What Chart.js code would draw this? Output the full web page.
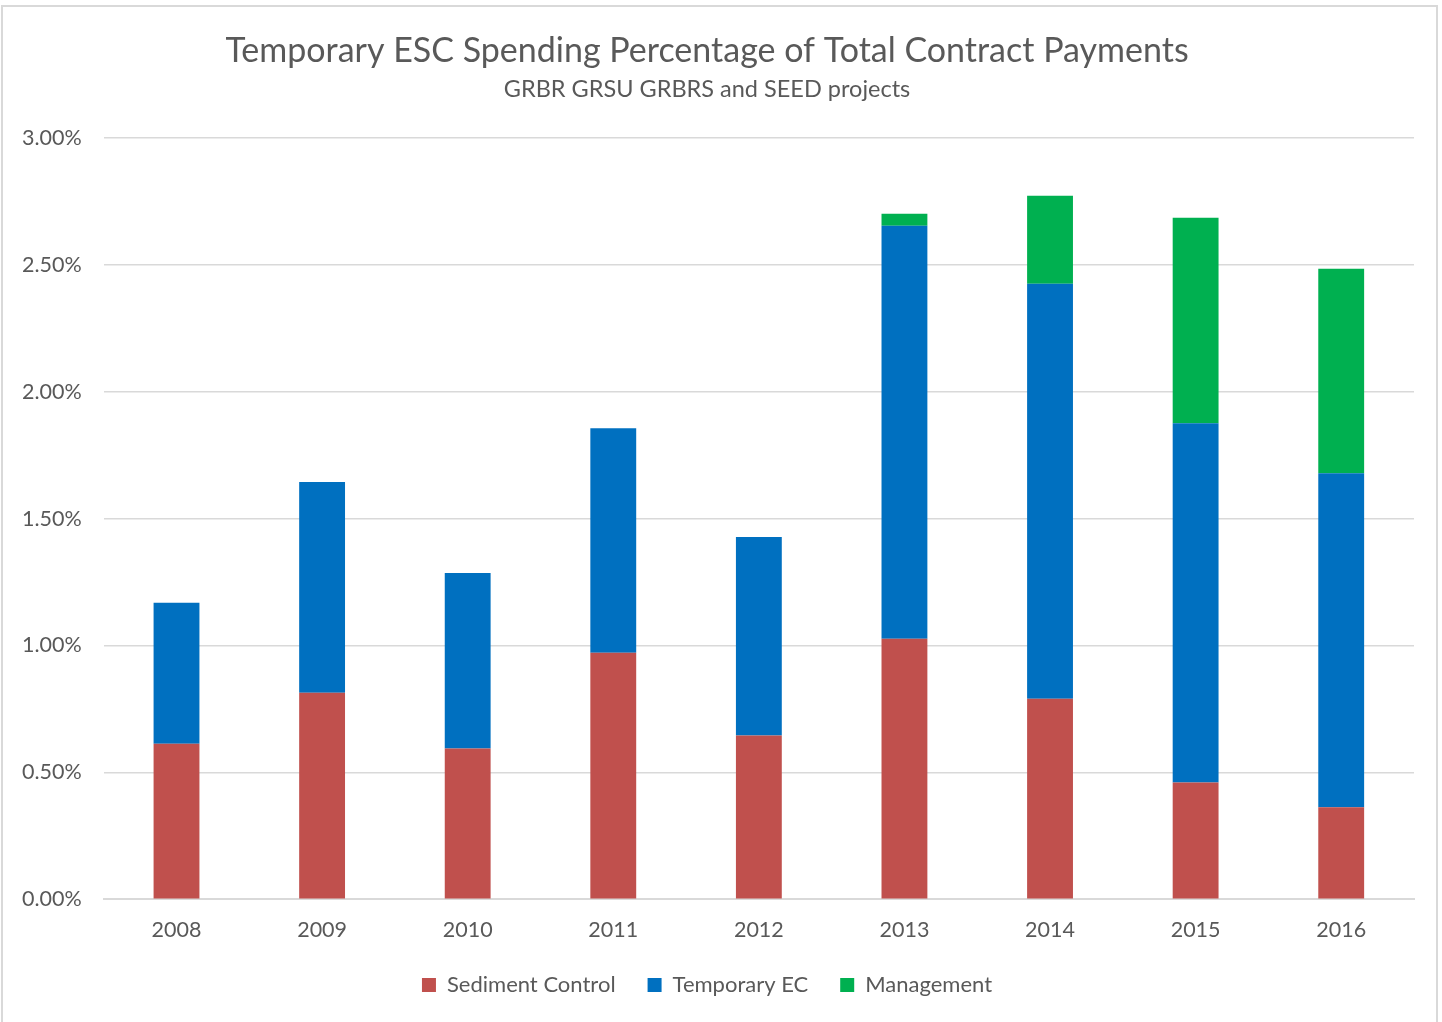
<!DOCTYPE html>
<html>
<head>
<meta charset="utf-8">
<script src="https://cdn.jsdelivr.net/npm/chart.js@4.4.1/dist/chart.umd.min.js"></script>
<style>
  body { margin: 0; background: #fff; }
  #frame { position: absolute; left: 1px; top: 5px; width: 1437px; height: 1030px; border: 2px solid #d9d9d9; box-sizing: border-box; }
  #wrap { position: absolute; left: 0; top: 0; width: 1442px; height: 1022px; }
</style>
</head>
<body>
<div id="frame"></div>
<div id="wrap"><canvas id="escChart"></canvas></div>
<script>
const years = ['2008', '2009', '2010', '2011', '2012', '2013', '2014', '2015', '2016'];
// percentages of total contract payments
const sedimentControl = [0.613, 0.814, 0.594, 0.971, 0.645, 1.026, 0.790, 0.460, 0.362];
const temporaryEC = [0.555, 0.830, 0.692, 0.885, 0.782, 1.628, 1.636, 1.416, 1.317];
const management = [0, 0, 0, 0, 0, 0.047, 0.346, 0.810, 0.806];

const textColor = '#595959';
const fontFamily = 'Lato, "Open Sans", sans-serif';

const ctx = document.getElementById('escChart').getContext('2d');
new Chart(ctx, {
    type: 'bar',
    data: {
        labels: years,
        datasets: [
            { label: 'Sediment Control', data: sedimentControl, backgroundColor: '#C0504D' },
            { label: 'Temporary EC', data: temporaryEC, backgroundColor: '#0070C0' },
            { label: 'Management', data: management, backgroundColor: '#00B050' }
        ]
    },
    options: {
        responsive: true,
        maintainAspectRatio: false,
        animation: false,
        layout: { padding: { left: 0, right: 28, top: 31, bottom: 16 } },
        datasets: { bar: { categoryPercentage: 1, barPercentage: 0.315 } },
        plugins: {
            title: {
                display: true,
                text: 'Temporary ESC Spending Percentage of Total Contract Payments',
                color: textColor,
                font: { family: fontFamily, size: 34, weight: 'normal' },
                padding: { top: 0, bottom: 4 }
            },
            subtitle: {
                display: true,
                text: 'GRBR GRSU GRBRS and SEED projects',
                color: textColor,
                font: { family: fontFamily, size: 23.5, weight: 'normal' },
                padding: { bottom: 34 }
            },
            legend: {
                position: 'bottom',
                labels: {
                    color: textColor,
                    boxWidth: 14,
                    boxHeight: 14,
                    padding: 32,
                    font: { family: fontFamily, size: 22 }
                }
            },
            tooltip: { enabled: false }
        },
        scales: {
            x: {
                stacked: true,
                grid: { display: false },
                border: { color: '#d9d9d9', width: 2 },
                ticks: { color: textColor, padding: 10, font: { family: fontFamily, size: 21.5 } },
                afterFit: function (scale) { scale.height -= 11; }
            },
            y: {
                stacked: true,
                min: 0,
                max: 3,
                ticks: {
                    stepSize: 0.5,
                    color: textColor,
                    padding: 22,
                    font: { family: fontFamily, size: 21.5 },
                    callback: function (value) { return value.toFixed(2) + '%'; }
                },
                grid: { color: '#d9d9d9', lineWidth: 1.5, drawTicks: false },
                border: { display: false }
            }
        }
    }
});
</script>
</body>
</html>
